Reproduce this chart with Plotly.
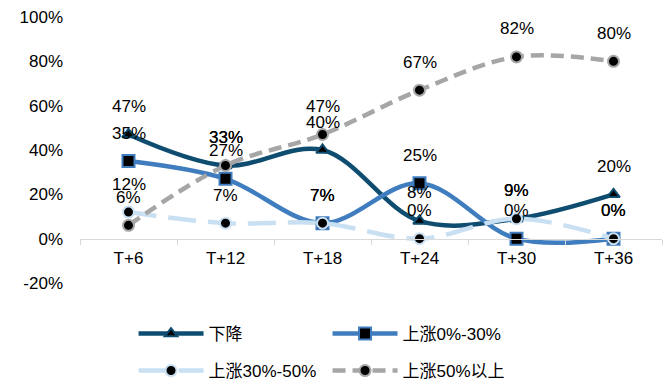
import plotly.graph_objects as go

# Horizons after the event
categories = ["T+6", "T+12", "T+18", "T+24", "T+30", "T+36"]

# Share of cases (%) in each price-change bucket
down = [47, 33, 40, 8, 9, 20]
up_0_30 = [35, 27, 7, 25, 0, 0]
up_30_50 = [12, 7, 7, 0, 9, 0]
up_50_plus = [6, 33, 47, 67, 82, 80]

series_names = ["下降", "上涨0%-30%", "上涨30%-50%", "上涨50%以上"]
y_ticks = [-20, 0, 20, 40, 60, 80, 100]

FONT = "Liberation Sans, Arial, Noto Sans CJK SC, sans-serif"
NAVY = "#0E4D6F"
BLUE = "#3F7DBF"
LIGHT = "#C9DFF2"
GRAY = "#A6A6A6"

styles = [
    dict(data=down, color=NAVY, dash="solid", symbol="triangle-up", msize=11, legend="legend"),
    dict(data=up_0_30, color=BLUE, dash="solid", symbol="square", msize=12, legend="legend"),
    dict(data=up_30_50, color=LIGHT, dash="28px,12px", symbol="circle", msize=11, legend="legend2"),
    dict(data=up_50_plus, color=GRAY, dash="13px,7px", symbol="circle", msize=11, legend="legend2"),
]

fig = go.Figure()
for name, st in zip(series_names, styles):
    fig.add_trace(go.Scatter(
        x=categories, y=st["data"], name=name, mode="lines+markers",
        line=dict(color=st["color"], width=4.5, dash=st["dash"], shape="spline", smoothing=1.0),
        marker=dict(symbol=st["symbol"], size=st["msize"], color="black",
                    line=dict(color=st["color"], width=2)),
        legend=st["legend"],
        cliponaxis=False,
    ))

# Value labels above each point
annotations = []
for st in styles:
    for cat, v in zip(categories, st["data"]):
        annotations.append(dict(
            x=cat, y=v, xref="x", yref="y", text=f"{v}%", showarrow=False,
            yshift=28, font=dict(family=FONT, size=17, color="black"),
        ))

legend_common = dict(
    orientation="h", xref="paper", x=0.092, xanchor="left",
    yref="container", yanchor="middle",
    itemwidth=65, entrywidth=114, entrywidthmode="pixels",
    font=dict(family=FONT, size=17, color="black"),
    bgcolor="rgba(0,0,0,0)",
)

fig.update_layout(
    width=671, height=381,
    margin=dict(l=80, r=9, t=17, b=98, autoexpand=False),
    paper_bgcolor="white", plot_bgcolor="white",
    font=dict(family=FONT, size=17, color="black"),
    showlegend=True,
    annotations=annotations,
    xaxis=dict(
        type="category", range=[-0.5, 5.5],
        anchor="free", position=20 / 120,
        showline=True, linecolor="#D9D9D9", linewidth=1.3,
        ticks="outside", tickson="boundaries", ticklen=5, tickcolor="#D9D9D9",
        showgrid=False, zeroline=False,
        ticklabelstandoff=4,
        tickfont=dict(family=FONT, size=17, color="black"),
    ),
    yaxis=dict(
        range=[-20, 100], tickvals=y_ticks,
        ticktext=[f"{t}%" for t in y_ticks],
        showgrid=False, zeroline=False, showline=False, ticks="",
        ticklabelstandoff=16,
        tickfont=dict(family=FONT, size=17, color="black"),
    ),
    legend=dict(legend_common, y=1 - 334 / 381),
    legend2=dict(legend_common, y=1 - 371 / 381),
)

fig.write_html("out.html")
